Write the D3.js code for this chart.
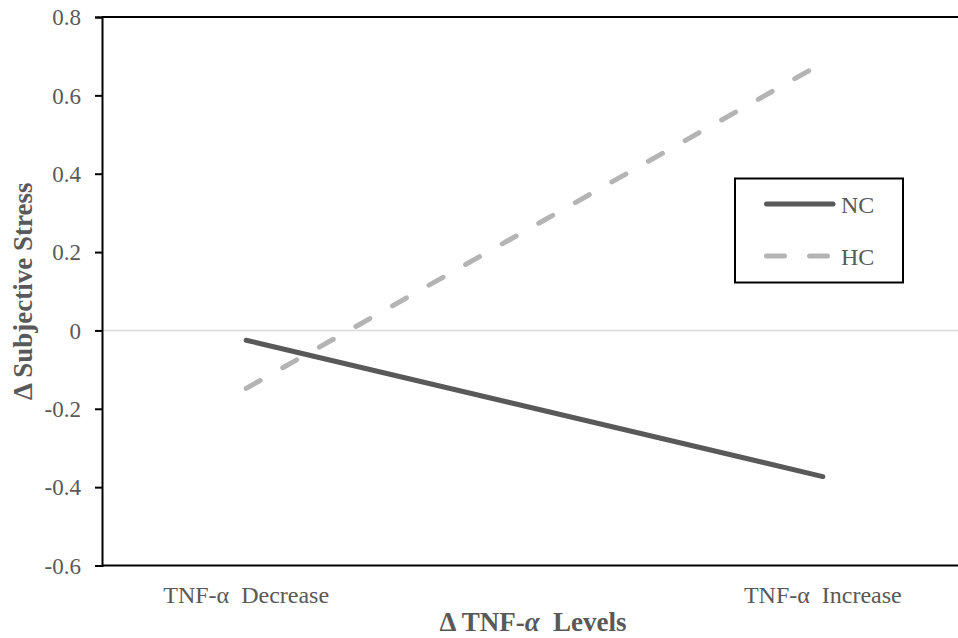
<!DOCTYPE html>
<html>
<head>
<meta charset="utf-8">
<script src="https://cdn.jsdelivr.net/npm/d3@7"></script>
<style>
  body { margin: 0; background: #fff; }
  svg text { font-family: "Liberation Serif", "Times New Roman", serif; }
</style>
</head>
<body>
<div id="chart"></div>
<script>
(function() {
	// data
	var categories = ['TNF-\u03b1  Decrease', 'TNF-\u03b1  Increase'];
	var ncValues = [-0.025, -0.373];
	var hcValues = [-0.148, 0.683];
	var seriesNames = ['NC', 'HC'];
	var yTicks = [-0.6, -0.4, -0.2, 0, 0.2, 0.4, 0.6, 0.8];
	var yTickLabels = ['-0.6', '-0.4', '-0.2', '0', '0.2', '0.4', '0.6', '0.8'];

	var svgwidth = 958;
	var svgheight = 638;
	var margin = {left: 102, top: 17, right: -9, bottom: 72.5};

	var plotRight = svgwidth - margin.right;
	var plotBottom = svgheight - margin.bottom;
	var serif = '"Liberation Serif", "Times New Roman", serif';

	var svg = d3.select('#chart')
				.append('svg')
				.attr('width', svgwidth)
				.attr('height', svgheight);

	var x = d3.scalePoint()
				.domain(categories)
				.range([margin.left, plotRight])
				.padding(0.25);

	var y = d3.scaleLinear()
				.domain([-0.6, 0.8])
				.range([plotBottom, margin.top]);

	//zero line
	svg.append('line')
		.attr('x1', margin.left).attr('x2', plotRight)
		.attr('y1', y(0)).attr('y2', y(0))
		.attr('stroke', '#d9d9d9')
		.attr('stroke-width', 1.5);

	//top and bottom border lines
	svg.append('line')
		.attr('x1', margin.left).attr('x2', plotRight)
		.attr('y1', margin.top).attr('y2', margin.top)
		.attr('stroke', '#000').attr('stroke-width', 2);
	svg.append('line')
		.attr('x1', margin.left).attr('x2', plotRight)
		.attr('y1', plotBottom).attr('y2', plotBottom)
		.attr('stroke', '#000').attr('stroke-width', 2);

	//y axis
	var yAxis = svg.append('g')
		.attr('transform', 'translate(' + margin.left + ',0)')
		.call(d3.axisLeft(y)
				.tickValues(yTicks)
				.tickSize(7)
				.tickPadding(14)
				.tickFormat(function(d, i){ return yTickLabels[i]; }));
	yAxis.attr('font-family', serif).attr('font-size', 23);
	yAxis.select('.domain').attr('stroke', '#000').attr('stroke-width', 2);
	yAxis.selectAll('.tick line').attr('stroke', '#000').attr('stroke-width', 2);
	yAxis.selectAll('.tick text')
		.attr('fill', '#595959')
		.attr('dy', '0.34em');

	//category labels
	svg.selectAll('.cat')
		.data(categories)
		.enter()
		.append('text')
		.attr('class', 'cat')
		.attr('x', function(d){ return x(d); })
		.attr('y', 603)
		.attr('text-anchor', 'middle')
		.attr('fill', '#595959')
		.style('font-size', '24px')
		.style('white-space', 'pre')
		.text(function(d){ return d; });

	//axis titles
	var xt = svg.append('text')
		.attr('x', 533)
		.attr('y', 631)
		.attr('text-anchor', 'middle')
		.attr('fill', '#595959')
		.style('font-size', '27px')
		.style('font-weight', 'bold')
		.style('white-space', 'pre');
	xt.append('tspan').text('\u0394 TNF-');
	xt.append('tspan').style('font-style', 'italic').text('\u03b1');
	xt.append('tspan').text('  Levels');

	svg.append('text')
		.attr('transform', 'translate(32,' + ((margin.top + plotBottom) / 2) + ') rotate(-90)')
		.attr('text-anchor', 'middle')
		.attr('fill', '#595959')
		.style('font-size', '27px')
		.style('font-weight', 'bold')
		.text('\u0394 Subjective Stress');

	//lines
	var line = d3.line()
		.x(function(d, i){ return x(categories[i]); })
		.y(function(d){ return y(d); });

	svg.append('path')
		.datum(ncValues)
		.attr('d', line)
		.attr('fill', 'none')
		.attr('stroke', '#595959')
		.attr('stroke-width', 5)
		.attr('stroke-linecap', 'round');

	svg.append('path')
		.datum(hcValues)
		.attr('d', line)
		.attr('fill', 'none')
		.attr('stroke', '#b4b4b4')
		.attr('stroke-width', 5)
		.attr('stroke-linecap', 'round')
		.attr('stroke-dasharray', '16,26');

	//legend
	var legend = svg.append('g');
	legend.append('rect')
		.attr('x', 735).attr('y', 178.5)
		.attr('width', 168).attr('height', 104)
		.attr('fill', '#fff')
		.attr('stroke', '#000')
		.attr('stroke-width', 2);

	var legendItems = legend.selectAll('.item')
		.data(seriesNames)
		.enter()
		.append('g')
		.attr('class', 'item')
		.attr('transform', function(d, i){ return 'translate(0,' + (204 + i * 52) + ')'; });

	legendItems.append('line')
		.attr('x1', 766.5).attr('x2', 833)
		.attr('stroke', function(d, i){ return i === 0 ? '#595959' : '#b4b4b4'; })
		.attr('stroke-width', 5)
		.attr('stroke-linecap', 'round')
		.attr('stroke-dasharray', function(d, i){ return i === 0 ? null : '18,25'; });

	legendItems.append('text')
		.attr('x', 841)
		.attr('y', 9)
		.attr('fill', '#595959')
		.style('font-size', '24px')
		.text(function(d){ return d; });
})();
</script>
</body>
</html>
